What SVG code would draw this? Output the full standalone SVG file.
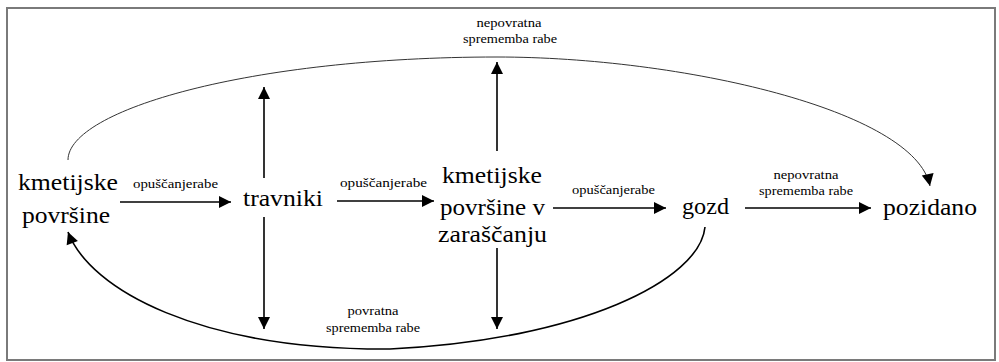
<svg xmlns="http://www.w3.org/2000/svg" width="999" height="362" viewBox="0 0 999 362">
  <style>
    .big { font-size: 24px; }
    .small { font-size: 12px; }
    .arrow { stroke: #000; stroke-width: 1.6; fill: none; marker-end: url(#head); }
    .thin { stroke: #333; stroke-width: 1; fill: none; marker-end: url(#head); }
  </style>
  <defs>
    <marker id="head" markerUnits="userSpaceOnUse" markerWidth="14" markerHeight="14" viewBox="0 0 14 14" refX="13" refY="7" orient="auto">
      <path d="M1,1 L13,7 L1,13 Z" fill="#000"/>
    </marker>
  </defs>

  <rect x="7" y="8" width="988" height="352" fill="#fff" stroke="#7a7a7a" stroke-width="2"/>

  <g id="connectors">
    <!-- main horizontal chain -->
    <line class="arrow" x1="120" y1="202" x2="231" y2="202"/>
    <line class="arrow" x1="337" y1="201" x2="434" y2="201"/>
    <line class="arrow" x1="553" y1="208" x2="666" y2="208"/>
    <line class="arrow" x1="745" y1="208" x2="871" y2="208"/>
    <!-- vertical branches -->
    <line class="arrow" x1="264" y1="178" x2="264" y2="87"/>
    <line class="arrow" x1="264" y1="217" x2="264" y2="329"/>
    <line class="arrow" x1="497" y1="151" x2="497" y2="62"/>
    <line class="arrow" x1="497" y1="248" x2="497" y2="329"/>
    <!-- irreversible change: top arc -->
    <path class="thin" d="M68,160 C68,110 250,57 497,57 C680,57 915,110 930,186"/>
    <!-- reversible change: bottom arc -->
    <path class="arrow" d="M705,227 C700,280 580,340 390,349 C200,350 90,290 68,232"/>
  </g>

  <g font-family="Liberation Serif, Times New Roman, Tinos, Noto Serif, serif" fill="#000">
    <g id="label-top">
      <text class="small" x="509" y="27" text-anchor="middle" textLength="65" lengthAdjust="spacingAndGlyphs">nepovratna</text>
      <text class="small" x="510" y="43" text-anchor="middle" textLength="94" lengthAdjust="spacingAndGlyphs">sprememba rabe</text>
    </g>
    <g id="label-bottom">
      <text class="small" x="373" y="315" text-anchor="middle" textLength="51" lengthAdjust="spacingAndGlyphs">povratna</text>
      <text class="small" x="373" y="332" text-anchor="middle" textLength="94" lengthAdjust="spacingAndGlyphs">sprememba rabe</text>
    </g>
    <g id="label-edge1">
      <text class="small" x="133" y="188" textLength="85" lengthAdjust="spacingAndGlyphs">opuščanjerabe</text>
    </g>
    <g id="label-edge2">
      <text class="small" x="340" y="187" textLength="87" lengthAdjust="spacingAndGlyphs">opuščanjerabe</text>
    </g>
    <g id="label-edge3">
      <text class="small" x="572" y="194" textLength="83" lengthAdjust="spacingAndGlyphs">opuščanjerabe</text>
    </g>
    <g id="label-edge4">
      <text class="small" x="806" y="179" text-anchor="middle" textLength="65" lengthAdjust="spacingAndGlyphs">nepovratna</text>
      <text class="small" x="806" y="195" text-anchor="middle" textLength="94" lengthAdjust="spacingAndGlyphs">sprememba rabe</text>
    </g>

    <g id="node-kmetijske">
      <text class="big" x="18" y="190" textLength="100" lengthAdjust="spacingAndGlyphs">kmetijske</text>
      <text class="big" x="22" y="223" textLength="88" lengthAdjust="spacingAndGlyphs">površine</text>
    </g>
    <g id="node-travniki">
      <text class="big" x="243" y="206" textLength="80" lengthAdjust="spacingAndGlyphs">travniki</text>
    </g>
    <g id="node-zarascanje">
      <text class="big" x="442" y="183" textLength="100" lengthAdjust="spacingAndGlyphs">kmetijske</text>
      <text class="big" x="440" y="215" textLength="105" lengthAdjust="spacingAndGlyphs">površine v</text>
      <text class="big" x="438" y="242" textLength="109" lengthAdjust="spacingAndGlyphs">zaraščanju</text>
    </g>
    <g id="node-gozd">
      <text class="big" x="682" y="214" textLength="47" lengthAdjust="spacingAndGlyphs">gozd</text>
    </g>
    <g id="node-pozidano">
      <text class="big" x="883" y="215" textLength="94" lengthAdjust="spacingAndGlyphs">pozidano</text>
    </g>
  </g>
</svg>
